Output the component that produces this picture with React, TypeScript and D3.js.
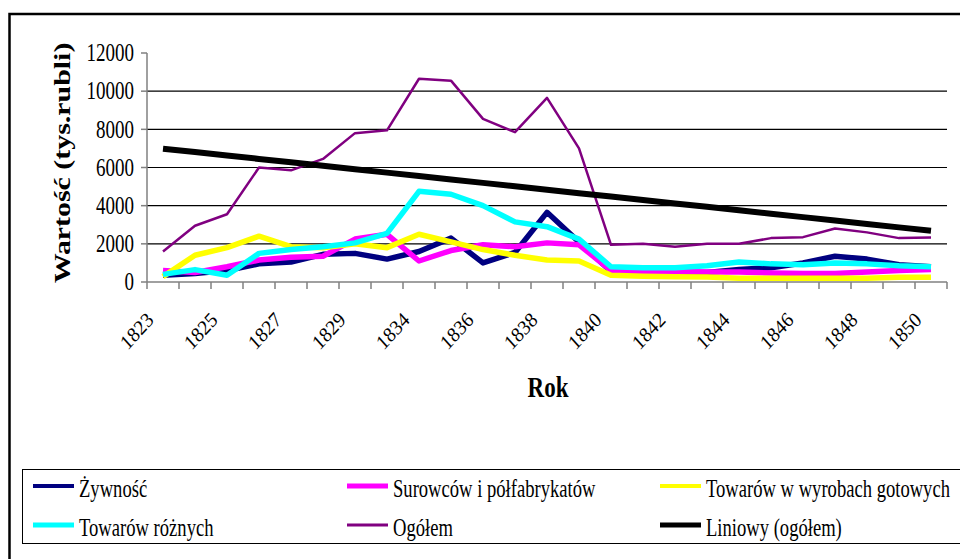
import React from "react";
import * as d3 from "d3";

const years = [
  "1823", "1824", "1825", "1826", "1827", "1828", "1829", "1830",
  "1834", "1835", "1836", "1837", "1838", "1839", "1840", "1841",
  "1842", "1843", "1844", "1845", "1846", "1847", "1848", "1849", "1850",
];

const zywnosc = [350, 450, 600, 950, 1050, 1450, 1500, 1200, 1600, 2300, 1000, 1550, 3650, 2100, 550, 500, 500, 500, 650, 750, 1000, 1350, 1200, 900, 800];
const surowcow = [600, 500, 800, 1150, 1300, 1350, 2250, 2500, 1100, 1650, 1950, 1850, 2050, 1950, 600, 550, 550, 530, 520, 470, 450, 450, 520, 600, 650];
const towaryGotowe = [280, 1400, 1800, 2400, 1850, 1800, 2000, 1800, 2500, 2100, 1700, 1400, 1150, 1100, 350, 300, 280, 260, 200, 200, 200, 200, 200, 250, 250];
const towaryRozne = [400, 650, 350, 1500, 1700, 1850, 2050, 2550, 4750, 4600, 4000, 3150, 2900, 2250, 800, 750, 750, 850, 1050, 950, 900, 1000, 950, 850, 800];
const ogolem = [1600, 2950, 3550, 6000, 5850, 6450, 7800, 7950, 10650, 10550, 8550, 7850, 9650, 7000, 1950, 2000, 1850, 2000, 2000, 2300, 2350, 2800, 2600, 2300, 2330];

const yTicks = [0, 2000, 4000, 6000, 8000, 10000, 12000];
const gridValues = [2000, 4000, 6000, 8000, 10000];

const seriesLabels = [
  "Żywność",
  "Surowców i półfabrykatów",
  "Towarów w wyrobach gotowych",
  "Towarów różnych",
  "Ogółem",
  "Liniowy (ogółem)",
];

const FONT = '"Liberation Serif", "Times New Roman", serif';
const SY = 1.3;

// linear trend of "Ogółem" over the category index
function trend(values: number[]) {
  const xs = values.map((_, i) => i);
  const mx = d3.mean(xs) as number;
  const my = d3.mean(values) as number;
  let num = 0;
  let den = 0;
  values.forEach((v, i) => {
    num += (i - mx) * (v - my);
    den += (i - mx) * (i - mx);
  });
  const slope = num / den;
  const icpt = my - slope * mx;
  return values.map((_, i) => icpt + slope * i);
}

export default function App() {
  const x = d3.scaleBand<string>().domain(years).range([147, 947]).padding(0);
  const cx = (i: number) => (x(years[i]) as number) + x.bandwidth() / 2;
  const y = d3.scaleLinear().domain([0, 12000]).range([282, 53]);

  const line = d3
    .line<number>()
    .x((_, i) => cx(i))
    .y((d) => y(d));

  const series = [
    { data: zywnosc, color: "#000080", width: 5.5 },
    { data: surowcow, color: "#FF00FF", width: 5.5 },
    { data: towaryGotowe, color: "#FFFF00", width: 5.5 },
    { data: towaryRozne, color: "#00FFFF", width: 5.5 },
    { data: ogolem, color: "#800080", width: 2.5 },
    { data: trend(ogolem), color: "#000000", width: 6 },
  ];

  const legendPos = [
    { lx: 33, ly: 486 },
    { lx: 347, ly: 486 },
    { lx: 660, ly: 486 },
    { lx: 33, ly: 525 },
    { lx: 347, ly: 525 },
    { lx: 660, ly: 525 },
  ];
  const legendWidths = [4, 5, 4, 5, 3, 5];

  return (
    <svg
      width={960}
      height={559}
      style={{ position: "absolute", left: 0, top: 0, background: "#fff" }}
      fontFamily={FONT}
    >
      <rect x={0} y={0} width={960} height={559} fill="#fff" />
      {/* chart frame */}
      <rect x={9.5} y={14} width={1000} height={600} fill="none" stroke="#000" strokeWidth={2.5} />

      {/* gridlines */}
      {gridValues.map((v) => (
        <line key={v} x1={147} x2={947} y1={y(v)} y2={y(v)} stroke="#000" strokeWidth={1.2} />
      ))}

      {/* y axis */}
      <line x1={147} x2={147} y1={y(12000)} y2={y(0)} stroke="#808080" strokeWidth={1.5} />
      {yTicks.map((v) => (
        <g key={v}>
          <line x1={141} x2={147} y1={y(v)} y2={y(v)} stroke="#808080" strokeWidth={1.5} />
          <g transform={`translate(134,${y(v)}) scale(1,${SY})`}>
            <text x={0} y={6.3} textAnchor="end" fontSize={19} fill="#000">
              {v}
            </text>
          </g>
        </g>
      ))}

      {/* x axis */}
      <line x1={147} x2={947} y1={y(0)} y2={y(0)} stroke="#808080" strokeWidth={1.5} />
      {years.map((yr) => (
        <line
          key={yr}
          x1={x(yr) as number}
          x2={x(yr) as number}
          y1={282}
          y2={289}
          stroke="#808080"
          strokeWidth={1.5}
        />
      ))}
      <line x1={947} x2={947} y1={282} y2={289} stroke="#808080" strokeWidth={1.5} />
      {years.map((yr, i) =>
        i % 2 === 0 ? (
          <text
            key={"l" + yr}
            transform={`translate(${cx(i) - 13},316) scale(1,1.1) rotate(-45)`}
            textAnchor="end"
            dy="0.35em"
            fontSize={19}
            fill="#000"
          >
            {yr}
          </text>
        ) : null
      )}

      {/* series */}
      {series.map((s, k) => (
        <path
          key={k}
          d={line(s.data) as string}
          fill="none"
          stroke={s.color}
          strokeWidth={s.width}
          strokeLinejoin="round"
        />
      ))}

      {/* axis titles */}
      <g transform={`translate(70,163) rotate(-90) scale(${SY},1)`}>
        <text textAnchor="middle" fontSize={23} fontWeight="bold" fill="#000">
          Wartość (tys.rubli)
        </text>
      </g>
      <g transform={`translate(548,397) scale(1,${SY})`}>
        <text textAnchor="middle" fontSize={23} fontWeight="bold" fill="#000">
          Rok
        </text>
      </g>

      {/* legend */}
      <rect x={22.5} y={469.5} width={1000} height={74} fill="#fff" stroke="#000" strokeWidth={1} />
      {series.map((s, k) => (
        <g key={"lg" + k}>
          <line
            x1={legendPos[k].lx}
            x2={legendPos[k].lx + 41}
            y1={legendPos[k].ly}
            y2={legendPos[k].ly}
            stroke={s.color}
            strokeWidth={legendWidths[k]}
          />
          <g transform={`translate(${legendPos[k].lx + 46},${legendPos[k].ly}) scale(1,${SY})`}>
            <text x={0} y={8.2} fontSize={18.6} fill="#000">
              {seriesLabels[k]}
            </text>
          </g>
        </g>
      ))}
    </svg>
  );
}
